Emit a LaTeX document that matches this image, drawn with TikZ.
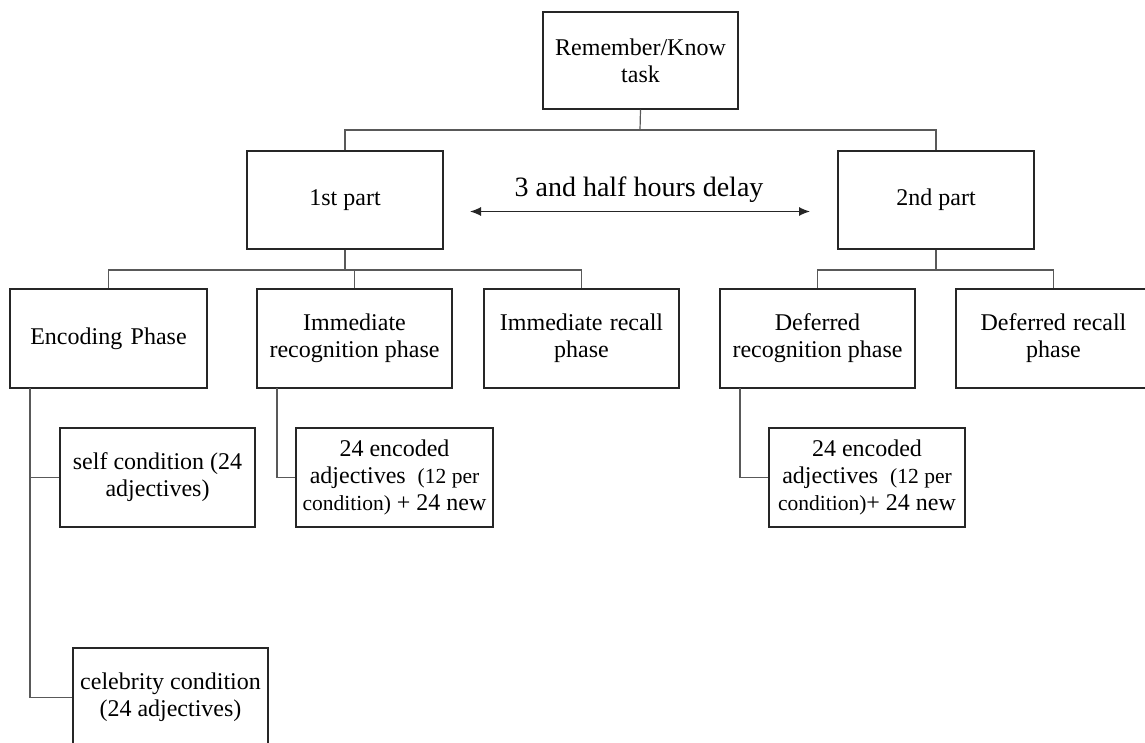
\documentclass[tikz,border=0pt]{standalone}
\usepackage{fontspec}
\setmainfont{Liberation Serif}
\usetikzlibrary{arrows.meta}
\definecolor{boxc}{gray}{0.15}
\definecolor{linec}{gray}{0.35}
\tikzset{
  box/.style={draw=boxc, line width=1.2pt, rectangle, inner sep=0pt, align=center,
    font=\fontsize{24}{27}\selectfont, text=black},
  conn/.style={draw=linec, line width=1.2pt},
  dbl/.style={draw=black!85, line width=1.2pt, {Latex[length=11pt,width=9pt]}-{Latex[length=11pt,width=9pt]}},
}
\newcommand{\sm}{\fontsize{21.5}{27}\selectfont}
\begin{document}
\begin{tikzpicture}[x=1pt,y=-1pt]
\useasboundingbox (0,0) rectangle (1145,743);
\fill[white] (0,0) rectangle (1145,743);
\clip (0,0) rectangle (1145,743);
% boxes
\node[box, minimum width=195pt, minimum height=97pt] (rk) at (640.5,60.5) {Remember/Know\\task};
\node[box, minimum width=196pt, minimum height=98pt] (p1) at (345,200) {1st part};
\node[box, minimum width=196pt, minimum height=98pt] (p2) at (936,200) {2nd part};
\node[box, minimum width=197pt, minimum height=99pt] (enc) at (108.5,338.5) {Encoding\hspace{0.35em}Phase};
\node[box, minimum width=195pt, minimum height=99pt] (irg) at (354.5,338.5) {Immediate\\recognition phase};
\node[box, minimum width=195pt, minimum height=99pt] (irc) at (581.5,338.5) {Immediate\hspace{0.3em}recall\\phase};
\node[box, minimum width=195pt, minimum height=99pt] (drg) at (817.5,338.5) {Deferred\\recognition phase};
\node[box, minimum width=195pt, minimum height=99pt] (drc) at (1053.5,338.5) {Deferred\hspace{0.3em}recall\\phase};
\node[box, minimum width=195pt, minimum height=99pt] (self) at (157.5,477.5) {self condition (24\\adjectives)};
\node[box, minimum width=197pt, minimum height=99pt] (ie) at (394.5,477.5) {24 encoded\\adjectives\hspace{0.25em} {\sm(12 per}\\{\sm condition)} + 24 new};
\node[box, minimum width=196pt, minimum height=99pt] (de) at (867,477.5) {24 encoded\\adjectives\hspace{0.25em} {\sm(12 per}\\{\sm condition)}+ 24 new};
\node[box, minimum width=195pt, minimum height=99pt] (celeb) at (170.5,697.5) {celebrity condition\\(24 adjectives)};
% delay arrow
\coordinate (al) at (470,211.5);
\coordinate (ar) at (810,211.5);
\draw[dbl] (al) -- (ar);
\node[font=\fontsize{28}{30}\selectfont, text=black, inner sep=0pt, anchor=base] (delay) at (639,197) {3 and half hours delay};
% junction coordinates
\coordinate (j0) at (640,130);
\coordinate (j1) at (345,270);
\coordinate (j2) at (936,270);
\coordinate (ea) at (30,388);
\coordinate (ra) at (277,388);
\coordinate (da) at (740,388);
% top level connectors
\draw[conn] (rk.south) -- (j0);
\draw[conn] (p1.north) |- (j0) -| (p2.north);
% 1st part children
\draw[conn] (p1.south) -- (j1);
\draw[conn] (enc.north) |- (j1) -| (irc.north);
\draw[conn] (irg.north) -- (irg.north |- j1);
% 2nd part children
\draw[conn] (p2.south) -- (j2);
\draw[conn] (drg.north) |- (j2) -| (drc.north);
% encoding children
\draw[conn] (ea) |- (celeb.west);
\draw[conn] (ea |- self.west) -- (self.west);
% recognition children
\draw[conn] (ra) |- (ie.west);
\draw[conn] (da) |- (de.west);
\end{tikzpicture}
\end{document}
